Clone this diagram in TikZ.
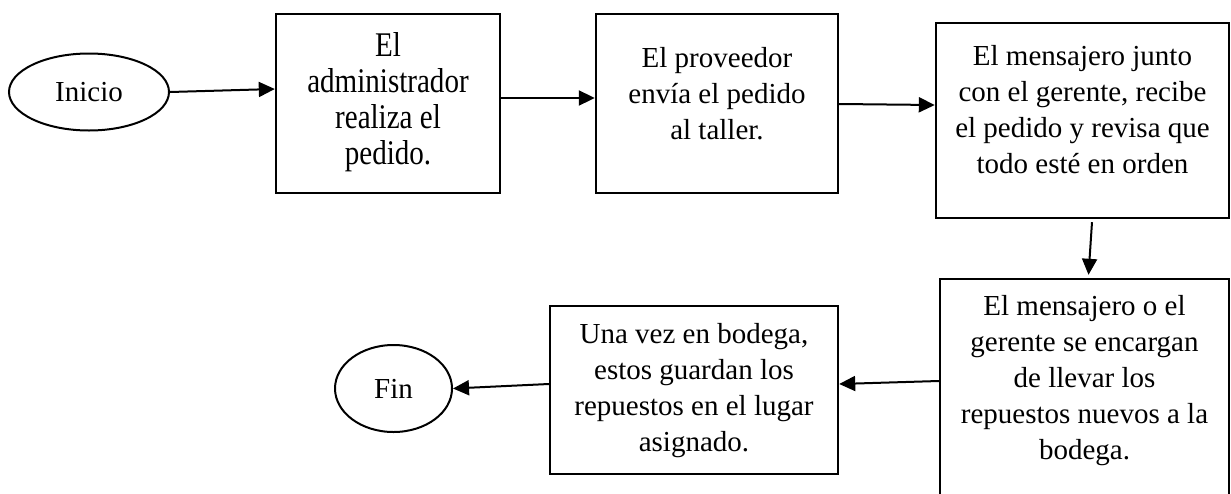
\documentclass[tikz,border=0pt]{standalone}
\usepackage{fontspec}
\setmainfont{Liberation Serif}
\newfontfamily\tallfont[FakeStretch=0.84]{Liberation Serif}
\usetikzlibrary{arrows.meta,shapes.geometric}
\begin{document}
\begin{tikzpicture}[x=0.5pt,y=-0.5pt,
  box/.style={draw, line width=1.2pt, rectangle, inner sep=0pt},
  term/.style={draw, line width=1pt, ellipse, inner sep=0pt, font=\fontsize{14.5}{18}\selectfont},
  txt/.style={align=center, inner sep=0pt, font=\fontsize{14.5}{18}\selectfont},
  talltxt/.style={align=center, inner sep=0pt, font=\tallfont\fontsize{17.3}{18}\selectfont},
  flow/.style={line width=1pt, -{Triangle[length=8pt,width=7.5pt]}}]
\useasboundingbox (0,0) rectangle (1231,493);
\clip (0,0) rectangle (1231,493);
% terminals
\node[term, minimum width=80pt, minimum height=38.5pt] (ini) at (89,92) {Inicio};
\node[term, minimum width=58.5pt, minimum height=43.5pt] (fin) at (393.5,388.5) {Fin};
% boxes
\node[box, minimum width=112pt, minimum height=89.5pt] (b1) at (388,103.5) {};
\node[talltxt] (t1) at (388,102) {El\\administrador\\realiza el\\pedido.};
\node[box, minimum width=121pt, minimum height=89.5pt] (b2) at (717,103.5) {};
\node[txt] (t2) at (717,93.5) {El proveedor\\envía el pedido\\al taller.};
\node[box, minimum width=146.5pt, minimum height=97.5pt] (b3) at (1082.5,120.5) {};
\node[txt] (t3) at (1082.5,110) {El mensajero junto\\con el gerente, recibe\\el pedido y revisa que\\todo esté en orden};
\node[box, minimum width=144.5pt, minimum height=120.5pt] (b4) at (1084.5,399.5) {};
\node[txt] (t4) at (1084.5,381) {El mensajero o el\\gerente se encargan\\de llevar los\\repuestos nuevos a la\\bodega.};
\node[box, minimum width=144pt, minimum height=84pt] (b5) at (694,390) {};
\node[txt] (t5) at (694,391) {Una vez en bodega,\\estos guardan los\\repuestos en el lugar\\asignado.};
% connectors
\draw[flow] (ini.east) -- ([yshift=7.25pt]b1.west);
\draw[flow] ([yshift=2.75pt]b1.east) -- ([yshift=2.75pt]b2.west);
\draw[flow] ([yshift=-0.25pt]b2.east) -- ([yshift=7.75pt]b3.west);
\draw[flow] ([xshift=4.75pt,yshift=-1.5pt]b3.south) -- ([xshift=2pt,yshift=1.5pt]b4.north);
\draw[flow] ([yshift=9.25pt]b4.west) -- ([yshift=3pt]b5.east);
\draw[flow] ([yshift=3pt]b5.west) -- (fin.east);
\end{tikzpicture}
\end{document}
